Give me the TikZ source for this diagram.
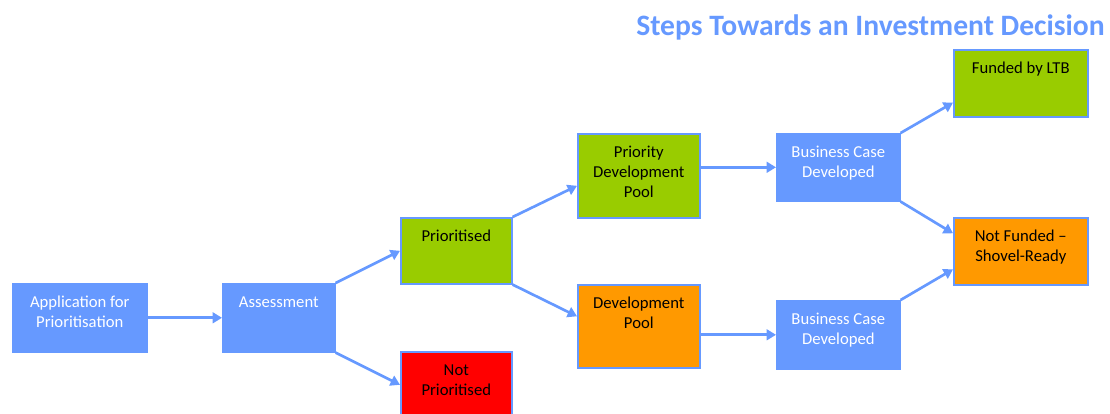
\documentclass[tikz,border=0pt]{standalone}
\usepackage{fontspec}
\setmainfont{Carlito}
\usepackage{tikz}
\usepackage{xcolor}
\usetikzlibrary{arrows.meta, calc, positioning}

\definecolor{stepblue}{HTML}{6699FF}
\definecolor{stepgreen}{HTML}{99CC00}
\definecolor{steporange}{HTML}{FF9900}
\definecolor{stepred}{HTML}{FF0000}

\newlength{\pxl}
\setlength{\pxl}{0.75pt}
% box text: width, height (in px), lines
\newcommand{\stagetext}[3]{\parbox[t][#2\pxl][t]{#1\pxl}{\centering\rule{0pt}{18pt}#3}}

\begin{document}
\begin{tikzpicture}[x=0.75pt, y=-0.75pt,
        >={Triangle[length=7pt, width=8pt]},
        stage/.style={draw=stepblue, line width=1.2pt, inner sep=0pt, anchor=north west,
            font=\fontsize{12.5pt}{15pt}\selectfont},
        bluestage/.style={stage, fill=stepblue, text=white},
        greenstage/.style={stage, fill=stepgreen, text=black},
        orangestage/.style={stage, fill=steporange, text=black},
        redstage/.style={stage, fill=stepred, text=black}]
                        \useasboundingbox (0, 0) rectangle (1110, 414);
                        \node[anchor=base east, inner sep=0pt, text=stepblue, font=\fontsize{22.2pt}{26pt}\selectfont\bfseries] (title) at (1105, 35) {Steps Towards an Investment Decision};
                        \node[bluestage] (app) at (12, 283) {\stagetext{134}{68}{Application for\\Prioritisation}};
                        \node[bluestage] (assess) at (222, 283) {\stagetext{112}{68}{Assessment}};
                        \node[greenstage] (prio) at (400, 217) {\stagetext{111}{66}{Prioritised}};
                        \node[redstage] (notprio) at (400, 351) {\stagetext{111}{66}{Not\\Prioritised}};
                        \node[greenstage] (pdp) at (577, 133) {\stagetext{122}{84}{Priority\\Development\\Pool}};
                        \node[orangestage] (dp) at (577, 284) {\stagetext{122}{83}{Development\\Pool}};
                        \node[bluestage] (bcd1) at (776, 133) {\stagetext{123}{67}{Business Case\\Developed}};
                        \node[bluestage] (bcd2) at (776, 300) {\stagetext{123}{68}{Business Case\\Developed}};
                        \node[greenstage] (funded) at (953, 49) {\stagetext{134}{67}{Funded by LTB}};
                        \node[orangestage] (notfunded) at (953, 217) {\stagetext{134}{67}{Not Funded --\\Shovel-Ready}};
                        \draw[stepblue, line width=2pt]
                        (app) edge[->] (assess)
                        (assess.north east) edge[->] (prio.west)
                        (assess.south east) edge[->] (notprio.west)
                        (prio.north east) edge[->] ([yshift=-7.5pt]pdp.west)
                        (prio.south east) edge[->] ([yshift=7.5pt]dp.west)
                        (pdp.east |- bcd1.west) edge[->] (bcd1.west)
                        (dp.east |- bcd2.west) edge[->] (bcd2.west)
                        (bcd1.north east) edge[->] ([yshift=-14.5pt]funded.west)
                        (bcd1.south east) edge[->] ([yshift=13.5pt]notfunded.west)
                        (bcd2.north east) edge[->] ([yshift=-13.5pt]notfunded.west);
                    \end{tikzpicture}
\end{document}
